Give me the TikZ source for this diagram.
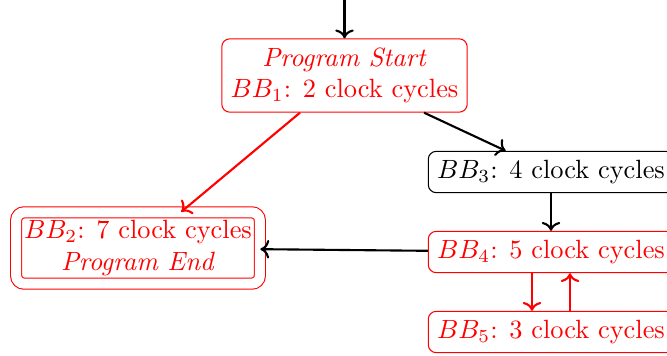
\documentclass[tikz,border=0pt]{standalone}
\usetikzlibrary{arrows.meta}
\begin{document}
\begin{tikzpicture}[x=0.3788pt,y=-0.3788pt,
  block/.style={draw, rounded corners=3pt, align=center, inner sep=3.33pt},
  hot/.style={block, red},
  finalblock/.style={hot, double, double distance=3.8pt, inner sep=3pt},
  flow/.style={->, thick},
  hotflow/.style={flow, red}]
\useasboundingbox (0,0) rectangle (667,356);
\node[hot] (bb1) at (344.5,75.5) {\textit{Program Start}\\ $BB_1$: 2 clock cycles};
\node[block] (bb3) at (551,172) {$BB_3$: 4 clock cycles};
\node[hot] (bb4) at (551,252) {$BB_4$: 5 clock cycles};
\node[hot] (bb5) at (551,332) {$BB_5$: 3 clock cycles};
\node[finalblock] (bb2) at (138,248) {$BB_2$: 7 clock cycles\\ \textit{Program End}};
\coordinate (entry) at (344.5,0);
\draw[flow] (entry) -- (bb1);
\draw[hotflow] (bb1) -- (bb2);
\draw[flow] (bb1) -- (bb3);
\draw[flow] (bb3) -- (bb4);
\draw[flow] (bb4) -- (bb2);
\draw[hotflow] ([xshift=-7.2pt]bb4.south) -- ([xshift=-7.2pt]bb5.north);
\draw[hotflow] ([xshift=7.2pt]bb5.north) -- ([xshift=7.2pt]bb4.south);
\end{tikzpicture}
\end{document}
